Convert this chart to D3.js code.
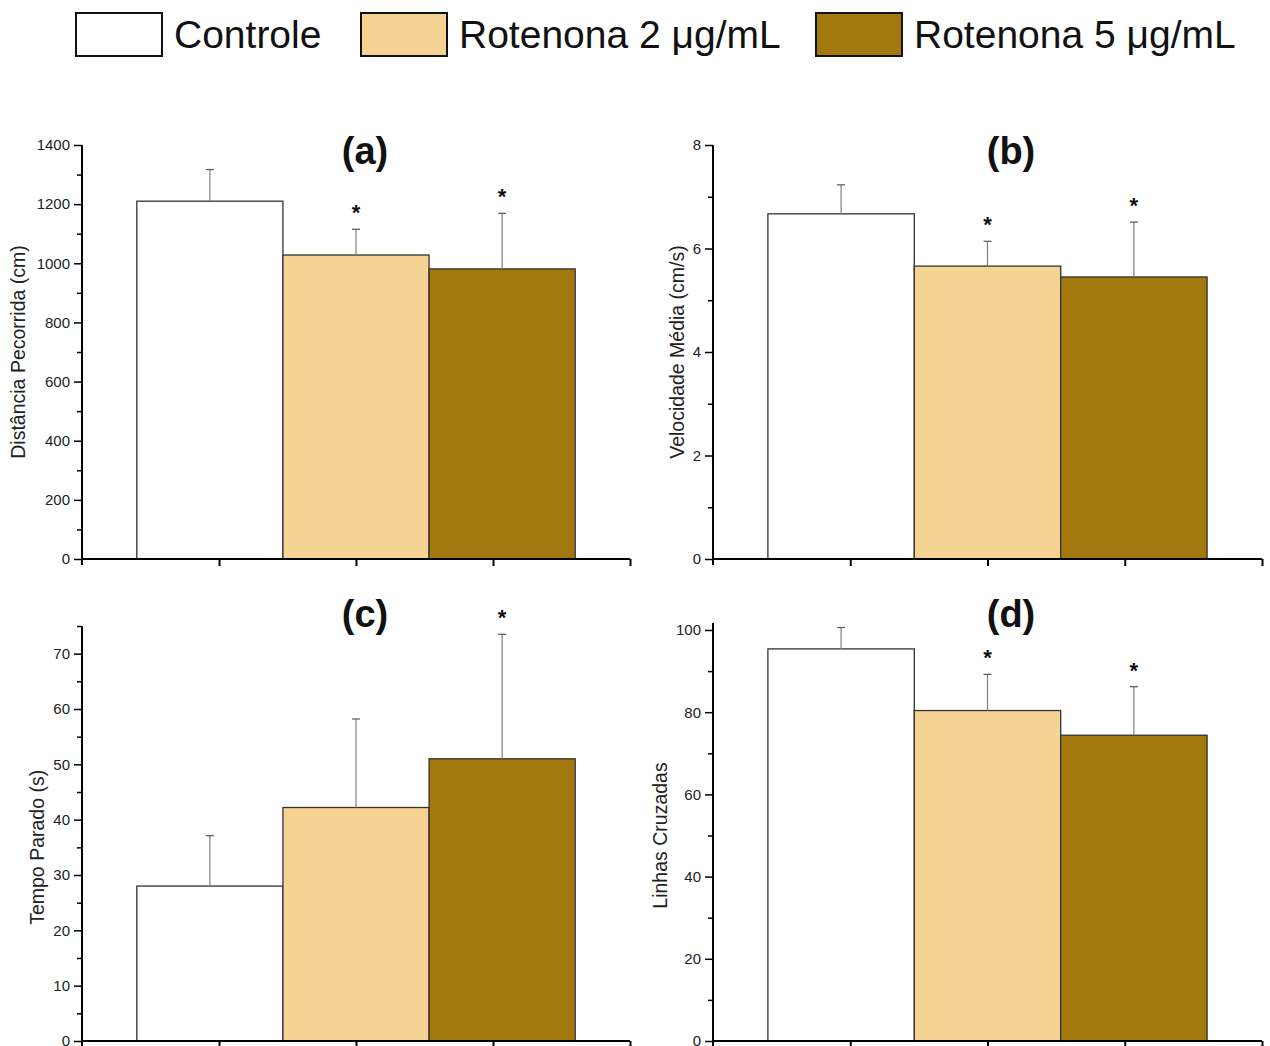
<!DOCTYPE html>
<html>
<head>
<meta charset="utf-8">
<script src="https://cdn.jsdelivr.net/npm/d3@7"></script>
<style>
  body { margin: 0; background: #fff; }
  text { font-family: Arial, "Liberation Sans", sans-serif; }
</style>
</head>
<body>
<div id="chart"></div>
<script>
// series / groups
var grupos = ["Controle", "Rotenona 2 μg/mL", "Rotenona 5 μg/mL"];
var cores = ["#FFFFFF", "#F5D493", "#A3780F"];

// panel values (mean, error)
var distancia = [1210, 1028, 981];
var distanciaErr = [107, 87, 188];
var velocidade = [6.67, 5.66, 5.45];
var velocidadeErr = [0.56, 0.48, 1.06];
var tempo = [28.0, 42.2, 51.0];
var tempoErr = [9.1, 16.0, 22.5];
var linhas = [95.4, 80.4, 74.4];
var linhasErr = [5.2, 8.8, 11.8];

// significance markers
var sigA = [false, true, true];
var sigB = [false, true, true];
var sigC = [false, false, true];
var sigD = [false, true, true];

// axis ticks
var ticksA = [0, 200, 400, 600, 800, 1000, 1200, 1400];
var ticksB = [0, 2, 4, 6, 8];
var ticksC = [0, 10, 20, 30, 40, 50, 60, 70];
var ticksD = [0, 20, 40, 60, 80, 100];

var width = 1270, height = 1046;

var svg = d3.select("#chart").append("svg")
    .attr("width", width)
    .attr("height", height);

// panel layout
var panels = [
    {label: "(a)", title: "Distância Pecorrida (cm)", vals: distancia, err: distanciaErr, sig: sigA,
     ticks: ticksA, minor: 100, max: 1400, x0: 82, x1: 630, y0: 559, y1: 145, titleOff: 64, labelX: 365, labelY: 164},
    {label: "(b)", title: "Velocidade Média (cm/s)", vals: velocidade, err: velocidadeErr, sig: sigB,
     ticks: ticksB, minor: 1, max: 8, x0: 713, x1: 1262, y0: 559, y1: 145, titleOff: 36, labelX: 1011, labelY: 164},
    {label: "(c)", title: "Tempo Parado (s)", vals: tempo, err: tempoErr, sig: sigC,
     ticks: ticksC, minor: 5, max: 75, x0: 82, x1: 630, y0: 1041, y1: 626, titleOff: 45, labelX: 365, labelY: 627},
    {label: "(d)", title: "Linhas Cruzadas", vals: linhas, err: linhasErr, sig: sigD,
     ticks: ticksD, minor: 10, max: 101.7, x0: 713, x1: 1262, y0: 1041, y1: 623, titleOff: 53, labelX: 1011, labelY: 627}
];

panels.forEach(function (p) {
    var g = svg.append("g");

    var y = d3.scaleLinear().domain([0, p.max]).range([p.y0, p.y1]);
    var xl = d3.scaleLinear().domain([0, 4]).range([p.x0, p.x1]);
    var xb = d3.scaleBand().domain(grupos).range([xl(0.4), xl(3.6)]).padding(0);
    var cx = function (i) { return xb(grupos[i]) + xb.bandwidth() / 2; };

    // bars
    g.selectAll("rect.bar")
        .data(p.vals)
        .enter().append("rect")
        .attr("class", "bar")
        .attr("x", function (d, i) { return xb(grupos[i]); })
        .attr("y", function (d) { return y(d); })
        .attr("width", xb.bandwidth())
        .attr("height", function (d) { return p.y0 - y(d); })
        .attr("fill", function (d, i) { return cores[i]; })
        .attr("stroke", "#333")
        .attr("stroke-width", 1.3);

    // error bars
    g.selectAll("line.err")
        .data(p.vals)
        .enter().append("line")
        .attr("x1", function (d, i) { return cx(i); })
        .attr("x2", function (d, i) { return cx(i); })
        .attr("y1", function (d) { return y(d); })
        .attr("y2", function (d, i) { return y(d + p.err[i]); })
        .attr("stroke", "#808080")
        .attr("stroke-width", 1.2);
    g.selectAll("line.cap")
        .data(p.vals)
        .enter().append("line")
        .attr("x1", function (d, i) { return cx(i) - 4; })
        .attr("x2", function (d, i) { return cx(i) + 4; })
        .attr("y1", function (d, i) { return y(d + p.err[i]); })
        .attr("y2", function (d, i) { return y(d + p.err[i]); })
        .attr("stroke", "#555")
        .attr("stroke-width", 1.2);

    // asterisks
    p.vals.forEach(function (d, i) {
        if (!p.sig[i]) return;
        g.append("text")
            .attr("x", cx(i))
            .attr("y", y(d + p.err[i]) - 9)
            .attr("text-anchor", "middle")
            .attr("font-size", 22)
            .attr("font-weight", "bold")
            .attr("fill", "#111")
            .text("*");
    });

    // y axis major + minor
    var minorTicks = d3.range(0, p.max + 1e-9, p.minor).filter(function (v) { return p.ticks.indexOf(v) < 0; });
    g.append("g")
        .attr("transform", "translate(" + p.x0 + ",0)")
        .call(d3.axisLeft(y).tickValues(minorTicks).tickSize(5).tickFormat(""))
        .call(function (a) { a.select(".domain").remove(); a.selectAll("line").attr("stroke-width", 1.5); });
    var ya = g.append("g")
        .attr("transform", "translate(" + p.x0 + ",0)")
        .call(d3.axisLeft(y).tickValues(p.ticks).tickSize(8).tickSizeOuter(0).tickPadding(4).tickFormat(d3.format("d")));
    ya.select(".domain").attr("stroke-width", 2).attr("d", "M0," + p.y1 + "V" + (p.y0 + 6));
    ya.selectAll(".tick line").attr("stroke-width", 1.5);
    ya.selectAll(".tick text").attr("font-size", 15).attr("fill", "#222")
        .style("font-family", "Arial, 'Liberation Sans', sans-serif");

    // x axis
    var xa = g.append("g")
        .attr("transform", "translate(0," + p.y0 + ")")
        .call(d3.axisBottom(xl).tickValues([1, 2, 3, 4]).tickSize(7).tickSizeOuter(0).tickFormat(""));
    xa.select(".domain").attr("stroke-width", 2).attr("d", "M" + p.x0 + ",0H" + p.x1);
    xa.selectAll(".tick line").attr("stroke-width", 2);

    // y title
    g.append("text")
        .attr("transform", "translate(" + (p.x0 - p.titleOff) + "," + ((p.y0 + y(p.ticks[p.ticks.length - 1])) / 2) + ") rotate(-90)")
        .attr("text-anchor", "middle")
        .attr("dominant-baseline", "central")
        .attr("font-size", 19.5)
        .attr("fill", "#222")
        .text(p.title);

    // panel label
    g.append("text")
        .attr("x", p.labelX)
        .attr("y", p.labelY)
        .attr("text-anchor", "middle")
        .attr("font-size", 38)
        .attr("font-weight", "bold")
        .attr("fill", "#111")
        .text(p.label);
});

// legend
var legX = [76, 361, 816];
var leg = svg.append("g");
leg.selectAll("rect")
    .data(grupos)
    .enter().append("rect")
    .attr("x", function (d, i) { return legX[i]; })
    .attr("y", 13)
    .attr("width", 86)
    .attr("height", 43)
    .attr("fill", function (d, i) { return cores[i]; })
    .attr("stroke", "#111")
    .attr("stroke-width", 2);
leg.selectAll("text")
    .data(grupos)
    .enter().append("text")
    .attr("x", function (d, i) { return legX[i] + 98; })
    .attr("y", 48)
    .attr("font-size", 39)
    .attr("fill", "#111")
    .text(function (d) { return d; });
</script>
</body>
</html>
